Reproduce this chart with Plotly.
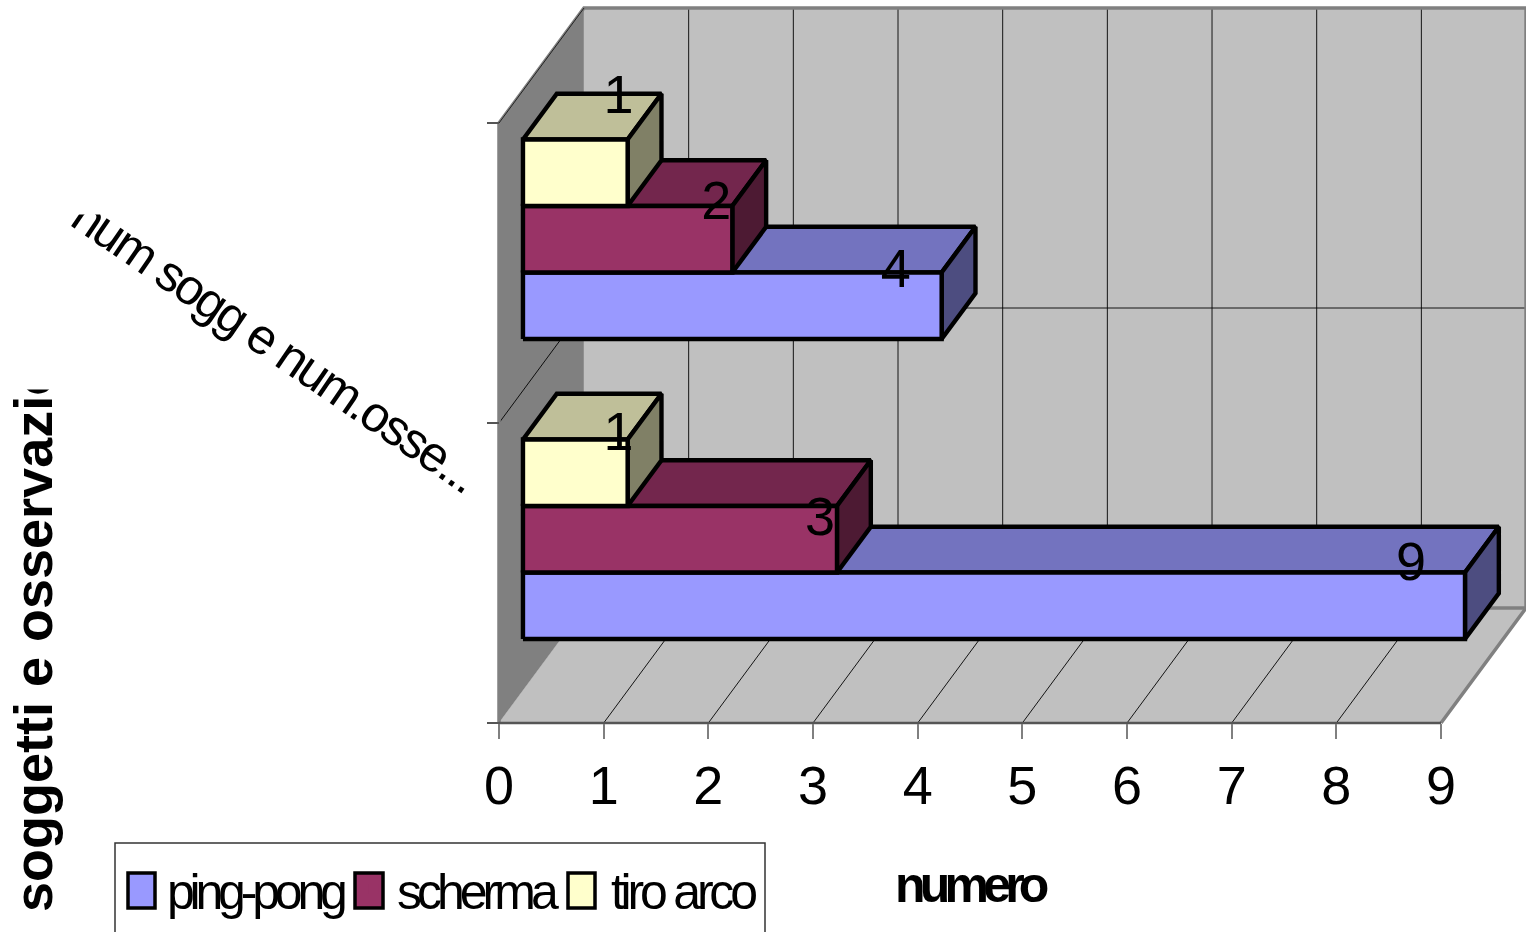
import plotly.graph_objects as go

# Chart data
categories = ["", "num sogg e num.osse..."]
series_names = ["ping-pong", "scherma", "tiro arco"]
ping_pong = [9, 4]
scherma = [3, 2]
tiro_arco = [1, 1]
value_ticks = list(range(10))

# Face colours per series: front, top, side
front_colors = ["#9999FF", "#993366", "#FFFFCC"]
top_colors = ["#7373BF", "#73264D", "#BFBF99"]
side_colors = ["#4D4D80", "#4D1A33", "#808066"]

# Canvas and oblique projection settings
W, H = 1526, 932
ORIGIN_X, ORIGIN_Y = 499, 723
UNIT_X, UNIT_Y = 104.67, 300
DEPTH_X, DEPTH_Y = 85 / UNIT_X, 115 / UNIT_Y
BAR_D0, BAR_D1 = 0.282, 0.68
BAR_H, BAR_GAP = 0.2217, 0.1717
N_VAL, N_CAT = 9, 2

# Value-label nudges in pixels, by series then category
label_dx = [[-54, -46], [-17, -16], [-9, -9]]
label_dy = [[-6, 1], [15, -1], [-3, -40]]

# Legend tracking per entry and key boxes (left, right) in pixels
legend_tracking = [-5.2, -5.0, -4.2]
key_spans = [(128, 155), (355, 383), (568, 595)]
KEY_TOP, KEY_BOTTOM = 873, 908


def proj(v, y, d=0.0):
    """Map (value, category height, depth) onto the flat axes."""
    return v + d * DEPTH_X, y + d * DEPTH_Y


def polys(faces):
    xs, ys = [], []
    for face in faces:
        pts = [proj(*p) for p in face]
        pts.append(pts[0])
        xs += [p[0] for p in pts] + [None]
        ys += [p[1] for p in pts] + [None]
    return xs, ys


def px(x):
    return x / W


def py(y):
    return 1 - y / H


def tight(text, spacing):
    """Wrap text so it is set with negative tracking."""
    return f'<span style="letter-spacing:{spacing}px">{text}</span>'


fig = go.Figure()


def add_face(faces, fill, line="black", width=4.4):
    xs, ys = polys(faces)
    fig.add_trace(go.Scatter(x=xs, y=ys, mode="lines", fill="toself", fillcolor=fill,
                             line=dict(color=line, width=width, simplify=False),
                             showlegend=False, hoverinfo="skip"))


# Walls and floor
add_face([[(0, 0, 0), (0, N_CAT, 0), (0, N_CAT, 1), (0, 0, 1)]], "#808080", "#808080", 1)
add_face([[(0, 0, 1), (0, N_CAT, 1), (N_VAL, N_CAT, 1), (N_VAL, 0, 1)]], "#C0C0C0", "#C0C0C0", 0.5)
add_face([[(0, 0, 0), (N_VAL, 0, 0), (N_VAL, 0, 1), (0, 0, 1)]], "#C0C0C0", "#C0C0C0", 0.5)

# Gridlines on floor, back wall and side wall
gx, gy = [], []
for v in value_ticks[1:-1]:
    for p in [(v, 0, 0), (v, 0, 1), (v, N_CAT, 1)]:
        a, b = proj(*p)
        gx.append(a)
        gy.append(b)
    gx.append(None)
    gy.append(None)
for c in range(1, N_CAT):
    for p in [(0, c, 0), (0, c, 1), (N_VAL, c, 1)]:
        a, b = proj(*p)
        gx.append(a)
        gy.append(b)
    gx.append(None)
    gy.append(None)
fig.add_trace(go.Scatter(x=gx, y=gy, mode="lines", line=dict(color="black", width=0.9),
                         showlegend=False, hoverinfo="skip"))

# Wall and floor outlines
edges = [[(N_VAL, 0, 0), (N_VAL, 0, 1), (N_VAL, N_CAT, 1), (0, N_CAT, 1), (0, N_CAT, 0), (0, 0, 0)],
         [(0, 0, 1), (N_VAL, 0, 1)]]
for path in edges:
    pts = [proj(*p) for p in path]
    fig.add_trace(go.Scatter(x=[p[0] for p in pts], y=[p[1] for p in pts], mode="lines",
                             line=dict(color="#808080", width=3.5), showlegend=False, hoverinfo="skip"))
pts = [proj(0, 0, 0), proj(N_VAL, 0, 0)]
fig.add_trace(go.Scatter(x=[p[0] for p in pts], y=[p[1] for p in pts], mode="lines",
                         line=dict(color="#555555", width=2.5), showlegend=False, hoverinfo="skip"))
pts = [proj(0, N_CAT, 0), proj(0, N_CAT, 1)]
fig.add_trace(go.Scatter(x=[p[0] for p in pts], y=[p[1] for p in pts], mode="lines",
                         line=dict(color="#222222", width=1), showlegend=False, hoverinfo="skip"))

# Bars, lower series first so upper fronts cover lower tops
all_series = [ping_pong, scherma, tiro_arco]
label_x, label_y, label_text = [], [], []
for s, values in enumerate(all_series):
    tops, sides, fronts = [], [], []
    for c, val in enumerate(values):
        y0 = c + BAR_GAP + s * BAR_H
        y1 = y0 + BAR_H
        fronts.append([(0, y0, BAR_D0), (val, y0, BAR_D0), (val, y1, BAR_D0), (0, y1, BAR_D0)])
        tops.append([(0, y1, BAR_D0), (val, y1, BAR_D0), (val, y1, BAR_D1), (0, y1, BAR_D1)])
        sides.append([(val, y0, BAR_D0), (val, y0, BAR_D1), (val, y1, BAR_D1), (val, y1, BAR_D0)])
        tx, ty = proj(val, y1, BAR_D0)
        label_x.append(tx + label_dx[s][c] / UNIT_X)
        label_y.append(ty - label_dy[s][c] / UNIT_Y)
        label_text.append(str(val))
    add_face(tops, top_colors[s])
    add_face(sides, side_colors[s])
    add_face(fronts, front_colors[s])

# Value labels
fig.add_trace(go.Scatter(x=label_x, y=label_y, text=label_text, mode="text",
                         textposition="middle center",
                         textfont=dict(family="Liberation Sans", size=54, color="black"),
                         showlegend=False, hoverinfo="skip"))

# Legend entries; their small native keys sit inside the larger key boxes below
for s, name in enumerate(series_names):
    fig.add_trace(go.Scatter(x=[None], y=[None], mode="markers", name=tight(name, legend_tracking[s]),
                             marker=dict(symbol="square", size=10, color=front_colors[s],
                                         line=dict(width=0))))

annotations = [
    # Category label, cut along a horizontal line near its start
    dict(x=px(275), y=py(345), xref="paper", yref="paper", text=tight(categories[1], -2.5), textangle=34.4,
         showarrow=False, xanchor="center", yanchor="middle",
         font=dict(family="Liberation Sans", size=50, color="black")),
    dict(x=px(33), y=py(638), xref="paper", yref="paper", text="<b>soggetti e osservazio</b>",
         textangle=-90, showarrow=False, xanchor="center", yanchor="middle",
         font=dict(family="Liberation Sans", size=54, color="black")),
    dict(x=px(971), y=py(885), xref="paper", yref="paper", text=tight("<b>numero</b>", -5.8), showarrow=False,
         xanchor="center", yanchor="middle",
         font=dict(family="Liberation Sans", size=50, color="black")),
    dict(x=px(140), y=py(198), xref="paper", yref="paper", text=" ", showarrow=False, width=140, height=30,
         bgcolor="white", xanchor="center", yanchor="middle"),
    dict(x=px(40), y=py(368), xref="paper", yref="paper", text=" ", showarrow=False, width=70, height=40,
         bgcolor="white", xanchor="center", yanchor="middle"),
]

# Legend frame runs past the bottom of the canvas
shapes = [dict(type="rect", xref="paper", yref="paper", x0=px(115), x1=px(765), y0=-0.05, y1=py(843),
               line=dict(color="#333333", width=1.5), layer="above")]
for s, (left, right) in enumerate(key_spans):
    shapes.append(dict(type="rect", xref="paper", yref="paper", x0=px(left), x1=px(right),
                       y0=py(KEY_BOTTOM), y1=py(KEY_TOP), fillcolor=front_colors[s],
                       line=dict(color="black", width=3.5), layer="above"))

fig.update_layout(
    width=W, height=H, margin=dict(l=0, r=0, t=0, b=0),
    paper_bgcolor="white", plot_bgcolor="white",
    font=dict(family="Liberation Sans", color="black"),
    annotations=annotations,
    shapes=shapes,
    hovermode=False,
    legend=dict(orientation="h", x=px(120), y=py(850), xanchor="left", yanchor="top",
                bgcolor="rgba(0,0,0,0)", borderwidth=0,
                font=dict(family="Liberation Sans", size=50, color="black"),
                itemwidth=37, traceorder="normal"),
    xaxis=dict(domain=[0, 1], range=[-ORIGIN_X / UNIT_X, (W - ORIGIN_X) / UNIT_X],
               anchor="free", position=py(ORIGIN_Y),
               tickvals=value_ticks, ticktext=[str(v) for v in value_ticks],
               ticks="outside", ticklen=15, tickcolor="#808080", tickwidth=1.5,
               showgrid=False, zeroline=False, showline=False,
               tickfont=dict(family="Liberation Sans", size=54, color="black")),
    yaxis=dict(domain=[0, 1], range=[(ORIGIN_Y - H) / UNIT_Y, ORIGIN_Y / UNIT_Y],
               anchor="free", position=px(ORIGIN_X),
               tickvals=list(range(N_CAT + 1)), ticktext=[""] * (N_CAT + 1),
               ticks="outside", ticklen=12, tickcolor="#555555", tickwidth=1.5,
               showgrid=False, zeroline=False, showline=False),
)

fig.write_html("out.html", config={"displayModeBar": False})
